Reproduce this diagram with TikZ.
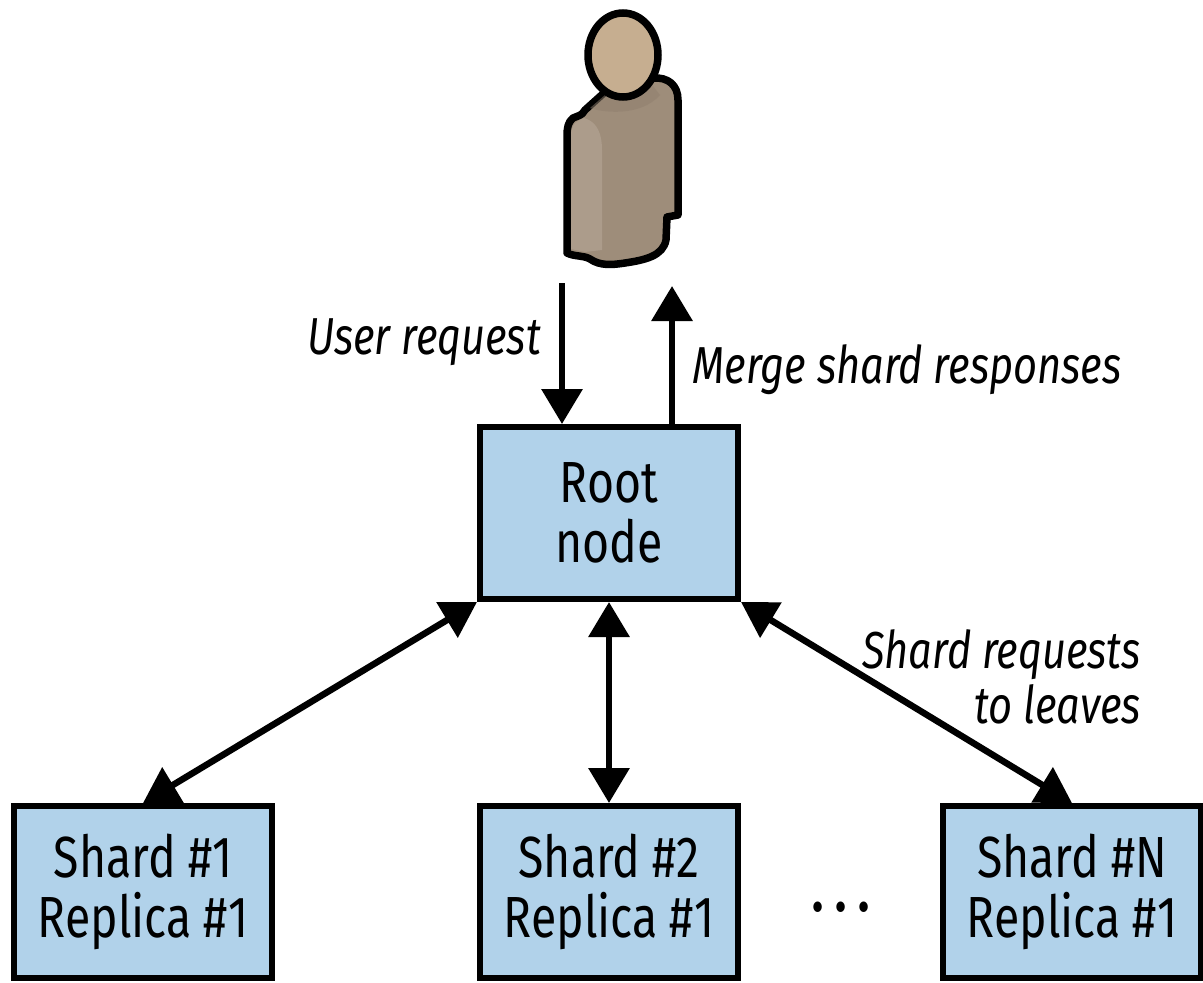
\documentclass[tikz,border=0pt]{standalone}
\usepackage{fontspec}
\setmainfont[FakeStretch=0.8]{Fira Sans}
\usetikzlibrary{arrows.meta}
\definecolor{boxblue}{HTML}{B1D2EA}
\definecolor{skin}{HTML}{C6AE90}
\definecolor{coat}{HTML}{9E8D7A}
\definecolor{coatlight}{HTML}{AC9C8B}
\definecolor{coatdark}{HTML}{8F7F6E}
\begin{document}
\begin{tikzpicture}
  [x=1pt,y=-1pt,
   box/.style={draw,line width=6pt,fill=boxblue,minimum width=258pt,minimum height=172pt,inner sep=0pt,align=center,font=\fontsize{58}{60}\selectfont},
   lbl/.style={font=\fontsize{52}{55}\selectfont\itshape,inner sep=0pt,align=right},
   link/.style={line width=6.5pt,-{Triangle[length=35pt,width=40pt]}},
   both/.style={line width=6.5pt,{Triangle[length=35pt,width=40pt]}-{Triangle[length=35pt,width=40pt]}}]
  \useasboundingbox (0,0) rectangle (1203,983);
  % user
  \draw[line width=7.5pt,fill=coat,line join=round] (605,92) -- (585,110) .. controls (582,116) and (577,116) .. (573,118) .. controls (568,122) and (567,128) .. (567,136) -- (567,253) .. controls (575,257) and (583,255) .. (590,259) .. controls (600,266) and (612,265) .. (625,263) .. controls (645,260) and (663,256) .. (666,240) -- (667,217) -- (678,215) -- (678,100) .. controls (678,85) and (668,77) .. (653,78) -- cycle;
  \fill[coatlight] (571,136) .. controls (571,128) and (573,122) .. (584,118) .. controls (598,122) and (602,135) .. (602,150) -- (602,250) -- (585,252) -- (571,249) -- cycle;
  \fill[coatdark,opacity=.5] (590,108) .. controls (600,112) and (640,118) .. (660,95) -- (650,82) -- (605,95) -- cycle;
  \draw[line width=7.5pt,fill=skin] (623,55) ellipse (35pt and 42pt);
  % boxes
  \node[box] (root) at (609,513) {Root\\node};
  \node[box] (shard1) at (143,892) {Shard \#1\\Replica \#1};
  \node[box] (shard2) at (609,892) {Shard \#2\\Replica \#1};
  \node[box] (shardn) at (1072,892) {Shard \#N\\Replica \#1};
  \node[inner sep=0pt,font=\fontsize{58}{60}\selectfont\bfseries] (dots) at (841,907) {.\hspace{12pt}.\hspace{12pt}.};
  % labels
  \node[lbl] (req) at (424,342) {User request};
  \node[lbl] (merge) at (907,370) {Merge shard responses};
  \node[lbl,anchor=east] (leaves) at (1141,677) {Shard requests\\to leaves};
  % arrows
  \coordinate (userin) at (562,283);
  \coordinate (userout) at (672,286);
  \draw[link] (userin) -- (root.north -| userin);
  \draw[link] (root.north -| userout) -- (userout);
  \draw[both] (root.south west) -- (shard1.north);
  \draw[both] (root.south) -- (shard2.north);
  \draw[both] (root.south east) -- (shardn.north);
\end{tikzpicture}
\end{document}
